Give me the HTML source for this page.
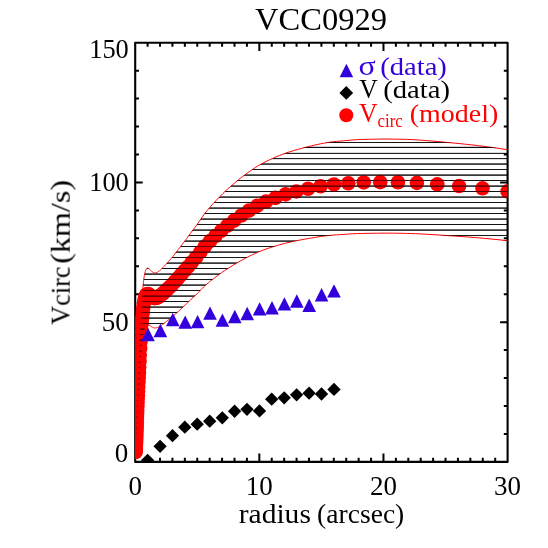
<!DOCTYPE html>
<html><head><meta charset="utf-8"><title>VCC0929</title>
<style>html,body{margin:0;padding:0;background:#fff;}svg{display:block;}text{font-family:"Liberation Serif",serif;}</style></head><body>
<svg width="548" height="548" viewBox="0 0 548 548">
<rect x="0" y="0" width="548" height="548" fill="#ffffff"/>
<defs>
<clipPath id="pc"><rect x="135.2" y="42.7" width="372.40" height="419.20"/></clipPath>
<clipPath id="bc"><polygon points="135.57,450.48 135.58,450.22 135.58,449.96 135.59,449.70 135.60,449.45 135.60,449.20 135.61,448.95 135.62,448.71 135.63,448.46 135.63,448.22 135.64,447.98 135.65,447.74 135.65,447.51 135.66,447.27 135.67,447.03 135.68,446.79 135.69,446.56 135.69,446.32 135.70,446.08 135.71,445.84 135.72,445.60 135.73,445.36 135.74,445.11 135.75,444.86 135.75,444.61 135.76,444.36 135.77,444.10 135.78,443.84 135.79,443.58 135.80,443.31 135.81,443.04 135.82,442.76 135.83,442.47 135.84,442.19 135.85,441.89 135.87,441.59 135.88,441.28 135.89,440.97 135.90,440.65 135.91,440.32 135.92,439.99 135.94,439.65 135.95,439.29 135.96,438.93 135.97,438.56 135.99,438.17 136.00,437.77 136.01,437.36 136.03,436.94 136.04,436.51 136.05,436.07 136.07,435.62 136.08,435.16 136.10,434.68 136.11,434.20 136.13,433.71 136.14,433.21 136.16,432.71 136.18,432.19 136.19,431.67 136.21,431.13 136.23,430.59 136.24,430.05 136.26,429.50 136.28,428.94 136.30,428.37 136.31,427.80 136.33,427.22 136.35,426.64 136.37,426.05 136.39,425.46 136.41,424.86 136.43,424.26 136.45,423.65 136.47,423.03 136.49,422.39 136.52,421.74 136.54,421.08 136.56,420.41 136.58,419.72 136.61,419.02 136.63,418.30 136.65,417.58 136.68,416.84 136.70,416.10 136.73,415.34 136.75,414.57 136.78,413.79 136.81,413.00 136.83,412.21 136.86,411.40 136.89,410.59 136.92,409.77 136.94,408.94 136.97,408.10 137.00,407.26 137.03,406.41 137.06,405.56 137.10,404.69 137.13,403.80 137.16,402.89 137.19,401.96 137.23,401.02 137.26,400.06 137.29,399.09 137.33,398.10 137.36,397.11 137.40,396.10 137.44,395.08 137.47,394.06 137.51,393.02 137.55,391.98 137.59,390.94 137.63,389.89 137.67,388.84 137.71,387.78 137.76,386.72 137.80,385.65 137.84,384.57 137.89,383.48 137.93,382.38 137.98,381.26 138.02,380.13 138.07,379.00 138.12,377.84 138.17,376.68 138.22,375.49 138.27,374.30 138.32,373.08 138.37,371.85 138.42,370.61 138.48,369.34 138.53,368.06 138.59,366.76 138.65,365.44 138.70,364.10 138.76,362.73 138.82,361.35 138.88,359.95 138.94,358.52 139.01,357.06 139.07,355.58 139.13,354.06 139.20,352.52 139.27,350.96 139.34,349.36 139.40,347.75 139.48,346.11 139.55,344.44 139.62,342.74 139.69,340.99 139.77,339.20 139.85,337.38 139.92,335.54 140.00,333.70 140.08,331.86 140.16,330.04 140.25,328.23 140.33,326.39 140.42,324.55 140.51,322.72 140.59,320.90 140.68,319.10 140.78,317.34 140.87,315.61 140.96,313.89 141.06,312.20 141.16,310.52 141.26,308.88 141.36,307.26 141.46,305.68 141.57,304.13 141.67,302.61 141.78,301.12 141.89,299.63 142.01,298.14 142.12,296.65 142.23,295.15 142.35,293.66 142.47,292.18 142.59,290.75 142.72,289.34 142.84,287.96 142.97,286.61 143.10,285.29 143.23,284.02 143.37,282.78 143.51,281.58 143.64,280.42 143.79,279.31 143.93,278.26 144.08,277.26 144.22,276.30 144.38,275.40 144.53,274.60 144.69,273.87 144.84,273.20 145.01,272.57 145.17,271.98 145.34,271.38 145.51,270.80 145.68,270.28 145.85,269.86 146.03,269.52 146.21,269.21 146.40,268.94 146.59,268.72 146.78,268.55 146.97,268.41 147.17,268.28 147.37,268.17 147.57,268.11 147.78,268.10 147.99,268.16 148.20,268.28 148.42,268.43 148.64,268.59 148.87,268.75 149.10,268.92 149.33,269.11 149.57,269.33 149.81,269.55 150.05,269.79 150.30,270.02 150.55,270.25 150.81,270.48 151.07,270.72 151.34,270.96 151.61,271.21 151.88,271.45 152.16,271.67 152.44,271.87 152.73,272.05 153.03,272.24 153.32,272.43 153.63,272.60 153.94,272.75 154.25,272.85 154.57,272.89 154.89,272.88 155.22,272.84 155.56,272.79 155.90,272.72 156.25,272.63 156.60,272.53 156.96,272.43 157.32,272.29 157.69,272.09 158.07,271.84 158.45,271.57 158.84,271.27 159.23,270.96 159.64,270.65 160.05,270.31 160.46,269.93 160.89,269.53 161.32,269.11 161.75,268.67 162.20,268.21 162.65,267.74 163.11,267.26 163.58,266.78 164.05,266.29 164.53,265.77 165.02,265.24 165.52,264.69 166.03,264.12 166.55,263.55 167.07,262.96 167.61,262.36 168.15,261.77 168.70,261.16 169.26,260.56 169.83,259.94 170.41,259.31 171.00,258.65 171.60,257.98 172.21,257.27 172.83,256.53 173.46,255.73 174.10,254.90 174.75,254.03 175.41,253.15 176.09,252.27 176.77,251.40 177.47,250.53 178.17,249.64 178.89,248.74 179.62,247.83 180.37,246.88 181.12,245.91 181.89,244.89 182.68,243.84 183.47,242.77 184.28,241.68 185.10,240.59 185.94,239.48 186.78,238.35 187.65,237.20 188.53,236.02 189.42,234.81 190.33,233.55 191.25,232.27 192.19,230.97 193.14,229.69 194.11,228.43 195.10,227.18 196.10,225.90 197.12,224.54 198.16,223.07 199.21,221.50 200.28,219.90 201.37,218.30 202.48,216.66 203.61,215.03 204.75,213.46 205.92,211.99 207.10,210.57 208.30,209.17 209.53,207.75 210.77,206.32 212.04,204.89 213.32,203.46 214.63,202.04 215.96,200.63 217.31,199.23 218.69,197.82 220.09,196.40 221.51,194.95 222.95,193.50 224.42,192.06 225.91,190.65 227.43,189.27 228.98,187.91 230.55,186.54 232.14,185.15 233.77,183.74 235.42,182.33 237.09,180.93 238.80,179.55 240.53,178.17 242.30,176.81 244.09,175.45 245.91,174.09 247.77,172.74 249.65,171.39 251.57,170.06 253.52,168.75 255.50,167.45 257.51,166.17 259.56,164.94 261.64,163.77 263.76,162.65 265.91,161.57 268.10,160.51 270.32,159.48 272.58,158.46 274.88,157.45 277.22,156.45 279.60,155.47 282.02,154.52 284.48,153.60 286.98,152.72 289.52,151.88 292.10,151.07 294.73,150.28 297.40,149.51 300.11,148.76 302.87,148.01 305.68,147.26 308.53,146.53 311.44,145.85 314.39,145.17 317.39,144.50 320.44,143.85 323.54,143.24 326.69,142.69 329.90,142.19 333.16,141.78 336.47,141.44 339.84,141.13 343.27,140.82 346.75,140.50 350.29,140.16 353.89,139.86 357.55,139.63 361.28,139.49 365.06,139.38 368.91,139.29 372.82,139.21 376.80,139.12 380.84,139.04 384.96,139.01 389.14,139.04 393.39,139.10 397.71,139.18 402.11,139.27 406.57,139.40 411.12,139.57 415.74,139.79 420.43,140.12 425.21,140.52 430.06,140.92 435.00,141.34 440.02,141.78 445.12,142.25 450.31,142.73 455.59,143.23 460.95,143.76 466.40,144.32 471.95,144.92 477.59,145.58 483.32,146.29 489.15,147.05 495.07,147.85 501.10,148.75 507.22,149.67 513.45,150.59 519.78,151.52 526.22,152.46 526.22,242.66 519.78,241.99 513.45,241.33 507.22,240.68 501.10,240.03 495.07,239.39 489.15,238.82 483.32,238.29 477.59,237.78 471.95,237.32 466.40,236.89 460.95,236.49 455.59,236.12 450.31,235.76 445.12,235.42 440.02,235.09 435.00,234.78 430.06,234.48 425.21,234.19 420.43,233.91 415.74,233.68 411.12,233.53 406.57,233.40 402.11,233.31 397.71,233.25 393.39,233.19 389.14,233.15 384.96,233.13 380.84,233.15 376.80,233.21 372.82,233.27 368.91,233.33 365.06,233.39 361.28,233.47 357.55,233.57 353.89,233.73 350.29,233.94 346.75,234.18 343.27,234.41 339.84,234.63 336.47,234.85 333.16,235.09 329.90,235.38 326.69,235.73 323.54,236.13 320.44,236.56 317.39,237.02 314.39,237.49 311.44,237.97 308.53,238.46 305.68,238.97 302.87,239.50 300.11,240.03 297.40,240.57 294.73,241.11 292.10,241.67 289.52,242.25 286.98,242.84 284.48,243.46 282.02,244.11 279.60,244.79 277.22,245.49 274.88,246.19 272.58,246.91 270.32,247.63 268.10,248.36 265.91,249.11 263.76,249.88 261.64,250.67 259.56,251.50 257.51,252.37 255.50,253.28 253.52,254.20 251.57,255.12 249.65,256.07 247.77,257.02 245.91,257.98 244.09,258.95 242.30,259.91 240.53,260.88 238.80,261.85 237.09,262.83 235.42,263.82 233.77,264.82 232.14,265.82 230.55,266.80 228.98,267.77 227.43,268.74 225.91,269.72 224.42,270.71 222.95,271.73 221.51,272.76 220.09,273.79 218.69,274.80 217.31,275.80 215.96,276.79 214.63,277.79 213.32,278.79 212.04,279.81 210.77,280.82 209.53,281.83 208.30,282.84 207.10,283.83 205.92,284.83 204.75,285.88 203.61,286.99 202.48,288.15 201.37,289.31 200.28,290.44 199.21,291.57 198.16,292.68 197.12,293.73 196.10,294.69 195.10,295.60 194.11,296.49 193.14,297.37 192.19,298.28 191.25,299.20 190.33,300.11 189.42,301.00 188.53,301.86 187.65,302.69 186.78,303.51 185.94,304.31 185.10,305.10 184.28,305.87 183.47,306.65 182.68,307.40 181.89,308.15 181.12,308.86 180.37,309.56 179.62,310.23 178.89,310.88 178.17,311.51 177.47,312.14 176.77,312.76 176.09,313.38 175.41,314.00 174.75,314.62 174.10,315.23 173.46,315.83 172.83,316.39 172.21,316.92 171.60,317.42 171.00,317.90 170.41,318.36 169.83,318.81 169.26,319.25 168.70,319.68 168.15,320.10 167.61,320.53 167.07,320.95 166.55,321.36 166.03,321.77 165.52,322.17 165.02,322.56 164.53,322.94 164.05,323.31 163.58,323.65 163.11,323.99 162.65,324.33 162.20,324.67 161.75,324.99 161.32,325.30 160.89,325.60 160.46,325.89 160.05,326.15 159.64,326.40 159.23,326.62 158.84,326.84 158.45,327.05 158.07,327.24 157.69,327.41 157.32,327.56 156.96,327.66 156.60,327.73 156.25,327.80 155.90,327.86 155.56,327.91 155.22,327.95 154.89,327.98 154.57,327.98 154.25,327.95 153.94,327.88 153.63,327.78 153.32,327.66 153.03,327.52 152.73,327.39 152.44,327.26 152.16,327.12 151.88,326.96 151.61,326.79 151.34,326.62 151.07,326.44 150.81,326.27 150.55,326.11 150.30,325.95 150.05,325.78 149.81,325.62 149.57,325.46 149.33,325.31 149.10,325.17 148.87,325.05 148.64,324.94 148.42,324.82 148.20,324.72 147.99,324.63 147.78,324.59 147.57,324.60 147.37,324.64 147.17,324.72 146.97,324.81 146.78,324.91 146.59,325.03 146.40,325.19 146.21,325.37 146.03,325.59 145.85,325.84 145.68,326.13 145.51,326.50 145.34,326.91 145.17,327.34 145.01,327.76 144.84,328.20 144.69,328.68 144.53,329.19 144.38,329.76 144.22,330.40 144.08,331.08 143.93,331.79 143.79,332.53 143.64,333.32 143.51,334.14 143.37,334.99 143.23,335.87 143.10,336.77 142.97,337.70 142.84,338.66 142.72,339.64 142.59,340.63 142.47,341.65 142.35,342.70 142.23,343.75 142.12,344.82 142.01,345.87 141.89,346.93 141.78,347.98 141.67,349.04 141.57,350.12 141.46,351.21 141.36,352.34 141.26,353.48 141.16,354.65 141.06,355.83 140.96,357.03 140.87,358.25 140.78,359.48 140.68,360.73 140.59,362.00 140.51,363.29 140.42,364.59 140.33,365.89 140.25,367.19 140.16,368.48 140.08,369.77 140.00,371.07 139.92,372.37 139.85,373.67 139.77,374.96 139.69,376.23 139.62,377.47 139.55,378.68 139.48,379.86 139.40,381.02 139.34,382.17 139.27,383.30 139.20,384.40 139.13,385.50 139.07,386.57 139.01,387.62 138.94,388.65 138.88,389.66 138.82,390.66 138.76,391.64 138.70,392.60 138.65,393.55 138.59,394.49 138.53,395.41 138.48,396.32 138.42,397.22 138.37,398.10 138.32,398.97 138.27,399.83 138.22,400.68 138.17,401.52 138.12,402.34 138.07,403.16 138.02,403.97 137.98,404.77 137.93,405.56 137.89,406.34 137.84,407.11 137.80,407.88 137.76,408.64 137.71,409.39 137.67,410.14 137.63,410.88 137.59,411.62 137.55,412.36 137.51,413.10 137.47,413.83 137.44,414.56 137.40,415.28 137.36,415.99 137.33,416.70 137.29,417.40 137.26,418.09 137.23,418.76 137.19,419.43 137.16,420.09 137.13,420.73 137.10,421.36 137.06,421.98 137.03,422.59 137.00,423.19 136.97,423.78 136.94,424.38 136.92,424.96 136.89,425.55 136.86,426.12 136.83,426.69 136.81,427.26 136.78,427.81 136.75,428.37 136.73,428.91 136.70,429.45 136.68,429.98 136.65,430.50 136.63,431.01 136.61,431.52 136.58,432.01 136.56,432.50 136.54,432.98 136.52,433.45 136.49,433.91 136.47,434.36 136.45,434.80 136.43,435.23 136.41,435.66 136.39,436.08 136.37,436.50 136.35,436.92 136.33,437.33 136.31,437.74 136.30,438.14 136.28,438.54 136.26,438.94 136.24,439.33 136.23,439.72 136.21,440.10 136.19,440.48 136.18,440.85 136.16,441.21 136.14,441.57 136.13,441.93 136.11,442.28 136.10,442.62 136.08,442.95 136.07,443.28 136.05,443.60 136.04,443.91 136.03,444.22 136.01,444.52 136.00,444.81 135.99,445.09 135.97,445.36 135.96,445.63 135.95,445.88 135.94,446.13 135.92,446.38 135.91,446.61 135.90,446.84 135.89,447.07 135.88,447.29 135.87,447.51 135.85,447.72 135.84,447.93 135.83,448.14 135.82,448.34 135.81,448.53 135.80,448.73 135.79,448.92 135.78,449.11 135.77,449.29 135.76,449.47 135.75,449.65 135.75,449.83 135.74,450.00 135.73,450.18 135.72,450.35 135.71,450.52 135.70,450.69 135.69,450.86 135.69,451.03 135.68,451.20 135.67,451.37 135.66,451.53 135.65,451.70 135.65,451.87 135.64,452.04 135.63,452.21 135.63,452.38 135.62,452.55 135.61,452.72 135.60,452.90 135.60,453.08 135.59,453.26 135.58,453.44 135.58,453.62 135.57,453.81"/></clipPath>
</defs>
<g stroke="#000" stroke-width="2.1" fill="none" stroke-linejoin="round">
<rect x="135.2" y="42.7" width="372.40" height="419.20"/>
</g>
<g stroke="#000" stroke-width="2.0" fill="none">
<path d="M147.61 461.9V457.80M147.61 42.7V46.80"/>
<path d="M160.03 461.9V457.80M160.03 42.7V46.80"/>
<path d="M172.44 461.9V457.80M172.44 42.7V46.80"/>
<path d="M184.85 461.9V457.80M184.85 42.7V46.80"/>
<path d="M197.27 461.9V457.80M197.27 42.7V46.80"/>
<path d="M209.68 461.9V457.80M209.68 42.7V46.80"/>
<path d="M222.09 461.9V457.80M222.09 42.7V46.80"/>
<path d="M234.51 461.9V457.80M234.51 42.7V46.80"/>
<path d="M246.92 461.9V457.80M246.92 42.7V46.80"/>
<path d="M259.33 461.9V453.50M259.33 42.7V51.10"/>
<path d="M271.75 461.9V457.80M271.75 42.7V46.80"/>
<path d="M284.16 461.9V457.80M284.16 42.7V46.80"/>
<path d="M296.57 461.9V457.80M296.57 42.7V46.80"/>
<path d="M308.99 461.9V457.80M308.99 42.7V46.80"/>
<path d="M321.40 461.9V457.80M321.40 42.7V46.80"/>
<path d="M333.81 461.9V457.80M333.81 42.7V46.80"/>
<path d="M346.23 461.9V457.80M346.23 42.7V46.80"/>
<path d="M358.64 461.9V457.80M358.64 42.7V46.80"/>
<path d="M371.05 461.9V457.80M371.05 42.7V46.80"/>
<path d="M383.47 461.9V453.50M383.47 42.7V51.10"/>
<path d="M395.88 461.9V457.80M395.88 42.7V46.80"/>
<path d="M408.29 461.9V457.80M408.29 42.7V46.80"/>
<path d="M420.71 461.9V457.80M420.71 42.7V46.80"/>
<path d="M433.12 461.9V457.80M433.12 42.7V46.80"/>
<path d="M445.53 461.9V457.80M445.53 42.7V46.80"/>
<path d="M457.95 461.9V457.80M457.95 42.7V46.80"/>
<path d="M470.36 461.9V457.80M470.36 42.7V46.80"/>
<path d="M482.77 461.9V457.80M482.77 42.7V46.80"/>
<path d="M495.19 461.9V457.80M495.19 42.7V46.80"/>
<path d="M135.2 433.95H139.00M507.6 433.95H503.80"/>
<path d="M135.2 406.01H139.00M507.6 406.01H503.80"/>
<path d="M135.2 378.06H139.00M507.6 378.06H503.80"/>
<path d="M135.2 350.11H139.00M507.6 350.11H503.80"/>
<path d="M135.2 322.17H142.70M507.6 322.17H500.10"/>
<path d="M135.2 294.22H139.00M507.6 294.22H503.80"/>
<path d="M135.2 266.27H139.00M507.6 266.27H503.80"/>
<path d="M135.2 238.33H139.00M507.6 238.33H503.80"/>
<path d="M135.2 210.38H139.00M507.6 210.38H503.80"/>
<path d="M135.2 182.43H142.70M507.6 182.43H500.10"/>
<path d="M135.2 154.49H139.00M507.6 154.49H503.80"/>
<path d="M135.2 126.54H139.00M507.6 126.54H503.80"/>
<path d="M135.2 98.59H139.00M507.6 98.59H503.80"/>
<path d="M135.2 70.65H139.00M507.6 70.65H503.80"/>
</g>
<g clip-path="url(#pc)">
<g clip-path="url(#bc)" stroke="#000" fill="none"><path stroke-width="0.8" opacity="1" d="M135.2 142.50H507.6M135.2 153.40H507.6M135.2 158.60H507.6M135.2 169.50H507.6M135.2 180.50H507.6M135.2 191.50H507.6M135.2 202.50H507.6M135.2 213.50H507.6M135.2 224.50H507.6M135.2 235.50H507.6M135.2 246.50H507.6M135.2 257.50H507.6M135.2 268.50H507.6M135.2 279.50H507.6M135.2 290.50H507.6M135.2 301.50H507.6M135.2 312.50H507.6M135.2 323.50H507.6M135.2 334.50H507.6M135.2 345.50H507.6M135.2 356.50H507.6M135.2 367.50H507.6M135.2 378.50H507.6M135.2 389.50H507.6M135.2 400.50H507.6M135.2 411.50H507.6M135.2 422.50H507.6M135.2 433.50H507.6M135.2 444.50H507.6M135.2 455.50H507.6"/><path stroke-width="0.8" opacity="1" d="M135.2 147.40H507.6M135.2 164.05H507.6M135.2 175.10H507.6M135.2 186.10H507.6M135.2 197.10H507.6M135.2 208.10H507.6M135.2 219.10H507.6M135.2 230.10H507.6M135.2 241.10H507.6M135.2 252.10H507.6M135.2 263.10H507.6M135.2 274.10H507.6M135.2 285.10H507.6M135.2 296.10H507.6M135.2 307.10H507.6M135.2 318.10H507.6M135.2 329.10H507.6M135.2 340.10H507.6M135.2 351.10H507.6M135.2 362.10H507.6M135.2 373.10H507.6M135.2 384.10H507.6M135.2 395.10H507.6M135.2 406.10H507.6M135.2 417.10H507.6M135.2 428.10H507.6M135.2 439.10H507.6M135.2 450.10H507.6M135.2 461.10H507.6"/></g>
<polygon points="135.57,450.48 135.58,450.22 135.58,449.96 135.59,449.70 135.60,449.45 135.60,449.20 135.61,448.95 135.62,448.71 135.63,448.46 135.63,448.22 135.64,447.98 135.65,447.74 135.65,447.51 135.66,447.27 135.67,447.03 135.68,446.79 135.69,446.56 135.69,446.32 135.70,446.08 135.71,445.84 135.72,445.60 135.73,445.36 135.74,445.11 135.75,444.86 135.75,444.61 135.76,444.36 135.77,444.10 135.78,443.84 135.79,443.58 135.80,443.31 135.81,443.04 135.82,442.76 135.83,442.47 135.84,442.19 135.85,441.89 135.87,441.59 135.88,441.28 135.89,440.97 135.90,440.65 135.91,440.32 135.92,439.99 135.94,439.65 135.95,439.29 135.96,438.93 135.97,438.56 135.99,438.17 136.00,437.77 136.01,437.36 136.03,436.94 136.04,436.51 136.05,436.07 136.07,435.62 136.08,435.16 136.10,434.68 136.11,434.20 136.13,433.71 136.14,433.21 136.16,432.71 136.18,432.19 136.19,431.67 136.21,431.13 136.23,430.59 136.24,430.05 136.26,429.50 136.28,428.94 136.30,428.37 136.31,427.80 136.33,427.22 136.35,426.64 136.37,426.05 136.39,425.46 136.41,424.86 136.43,424.26 136.45,423.65 136.47,423.03 136.49,422.39 136.52,421.74 136.54,421.08 136.56,420.41 136.58,419.72 136.61,419.02 136.63,418.30 136.65,417.58 136.68,416.84 136.70,416.10 136.73,415.34 136.75,414.57 136.78,413.79 136.81,413.00 136.83,412.21 136.86,411.40 136.89,410.59 136.92,409.77 136.94,408.94 136.97,408.10 137.00,407.26 137.03,406.41 137.06,405.56 137.10,404.69 137.13,403.80 137.16,402.89 137.19,401.96 137.23,401.02 137.26,400.06 137.29,399.09 137.33,398.10 137.36,397.11 137.40,396.10 137.44,395.08 137.47,394.06 137.51,393.02 137.55,391.98 137.59,390.94 137.63,389.89 137.67,388.84 137.71,387.78 137.76,386.72 137.80,385.65 137.84,384.57 137.89,383.48 137.93,382.38 137.98,381.26 138.02,380.13 138.07,379.00 138.12,377.84 138.17,376.68 138.22,375.49 138.27,374.30 138.32,373.08 138.37,371.85 138.42,370.61 138.48,369.34 138.53,368.06 138.59,366.76 138.65,365.44 138.70,364.10 138.76,362.73 138.82,361.35 138.88,359.95 138.94,358.52 139.01,357.06 139.07,355.58 139.13,354.06 139.20,352.52 139.27,350.96 139.34,349.36 139.40,347.75 139.48,346.11 139.55,344.44 139.62,342.74 139.69,340.99 139.77,339.20 139.85,337.38 139.92,335.54 140.00,333.70 140.08,331.86 140.16,330.04 140.25,328.23 140.33,326.39 140.42,324.55 140.51,322.72 140.59,320.90 140.68,319.10 140.78,317.34 140.87,315.61 140.96,313.89 141.06,312.20 141.16,310.52 141.26,308.88 141.36,307.26 141.46,305.68 141.57,304.13 141.67,302.61 141.78,301.12 141.89,299.63 142.01,298.14 142.12,296.65 142.23,295.15 142.35,293.66 142.47,292.18 142.59,290.75 142.72,289.34 142.84,287.96 142.97,286.61 143.10,285.29 143.23,284.02 143.37,282.78 143.51,281.58 143.64,280.42 143.79,279.31 143.93,278.26 144.08,277.26 144.22,276.30 144.38,275.40 144.53,274.60 144.69,273.87 144.84,273.20 145.01,272.57 145.17,271.98 145.34,271.38 145.51,270.80 145.68,270.28 145.85,269.86 146.03,269.52 146.21,269.21 146.40,268.94 146.59,268.72 146.78,268.55 146.97,268.41 147.17,268.28 147.37,268.17 147.57,268.11 147.78,268.10 147.99,268.16 148.20,268.28 148.42,268.43 148.64,268.59 148.87,268.75 149.10,268.92 149.33,269.11 149.57,269.33 149.81,269.55 150.05,269.79 150.30,270.02 150.55,270.25 150.81,270.48 151.07,270.72 151.34,270.96 151.61,271.21 151.88,271.45 152.16,271.67 152.44,271.87 152.73,272.05 153.03,272.24 153.32,272.43 153.63,272.60 153.94,272.75 154.25,272.85 154.57,272.89 154.89,272.88 155.22,272.84 155.56,272.79 155.90,272.72 156.25,272.63 156.60,272.53 156.96,272.43 157.32,272.29 157.69,272.09 158.07,271.84 158.45,271.57 158.84,271.27 159.23,270.96 159.64,270.65 160.05,270.31 160.46,269.93 160.89,269.53 161.32,269.11 161.75,268.67 162.20,268.21 162.65,267.74 163.11,267.26 163.58,266.78 164.05,266.29 164.53,265.77 165.02,265.24 165.52,264.69 166.03,264.12 166.55,263.55 167.07,262.96 167.61,262.36 168.15,261.77 168.70,261.16 169.26,260.56 169.83,259.94 170.41,259.31 171.00,258.65 171.60,257.98 172.21,257.27 172.83,256.53 173.46,255.73 174.10,254.90 174.75,254.03 175.41,253.15 176.09,252.27 176.77,251.40 177.47,250.53 178.17,249.64 178.89,248.74 179.62,247.83 180.37,246.88 181.12,245.91 181.89,244.89 182.68,243.84 183.47,242.77 184.28,241.68 185.10,240.59 185.94,239.48 186.78,238.35 187.65,237.20 188.53,236.02 189.42,234.81 190.33,233.55 191.25,232.27 192.19,230.97 193.14,229.69 194.11,228.43 195.10,227.18 196.10,225.90 197.12,224.54 198.16,223.07 199.21,221.50 200.28,219.90 201.37,218.30 202.48,216.66 203.61,215.03 204.75,213.46 205.92,211.99 207.10,210.57 208.30,209.17 209.53,207.75 210.77,206.32 212.04,204.89 213.32,203.46 214.63,202.04 215.96,200.63 217.31,199.23 218.69,197.82 220.09,196.40 221.51,194.95 222.95,193.50 224.42,192.06 225.91,190.65 227.43,189.27 228.98,187.91 230.55,186.54 232.14,185.15 233.77,183.74 235.42,182.33 237.09,180.93 238.80,179.55 240.53,178.17 242.30,176.81 244.09,175.45 245.91,174.09 247.77,172.74 249.65,171.39 251.57,170.06 253.52,168.75 255.50,167.45 257.51,166.17 259.56,164.94 261.64,163.77 263.76,162.65 265.91,161.57 268.10,160.51 270.32,159.48 272.58,158.46 274.88,157.45 277.22,156.45 279.60,155.47 282.02,154.52 284.48,153.60 286.98,152.72 289.52,151.88 292.10,151.07 294.73,150.28 297.40,149.51 300.11,148.76 302.87,148.01 305.68,147.26 308.53,146.53 311.44,145.85 314.39,145.17 317.39,144.50 320.44,143.85 323.54,143.24 326.69,142.69 329.90,142.19 333.16,141.78 336.47,141.44 339.84,141.13 343.27,140.82 346.75,140.50 350.29,140.16 353.89,139.86 357.55,139.63 361.28,139.49 365.06,139.38 368.91,139.29 372.82,139.21 376.80,139.12 380.84,139.04 384.96,139.01 389.14,139.04 393.39,139.10 397.71,139.18 402.11,139.27 406.57,139.40 411.12,139.57 415.74,139.79 420.43,140.12 425.21,140.52 430.06,140.92 435.00,141.34 440.02,141.78 445.12,142.25 450.31,142.73 455.59,143.23 460.95,143.76 466.40,144.32 471.95,144.92 477.59,145.58 483.32,146.29 489.15,147.05 495.07,147.85 501.10,148.75 507.22,149.67 513.45,150.59 519.78,151.52 526.22,152.46 526.22,242.66 519.78,241.99 513.45,241.33 507.22,240.68 501.10,240.03 495.07,239.39 489.15,238.82 483.32,238.29 477.59,237.78 471.95,237.32 466.40,236.89 460.95,236.49 455.59,236.12 450.31,235.76 445.12,235.42 440.02,235.09 435.00,234.78 430.06,234.48 425.21,234.19 420.43,233.91 415.74,233.68 411.12,233.53 406.57,233.40 402.11,233.31 397.71,233.25 393.39,233.19 389.14,233.15 384.96,233.13 380.84,233.15 376.80,233.21 372.82,233.27 368.91,233.33 365.06,233.39 361.28,233.47 357.55,233.57 353.89,233.73 350.29,233.94 346.75,234.18 343.27,234.41 339.84,234.63 336.47,234.85 333.16,235.09 329.90,235.38 326.69,235.73 323.54,236.13 320.44,236.56 317.39,237.02 314.39,237.49 311.44,237.97 308.53,238.46 305.68,238.97 302.87,239.50 300.11,240.03 297.40,240.57 294.73,241.11 292.10,241.67 289.52,242.25 286.98,242.84 284.48,243.46 282.02,244.11 279.60,244.79 277.22,245.49 274.88,246.19 272.58,246.91 270.32,247.63 268.10,248.36 265.91,249.11 263.76,249.88 261.64,250.67 259.56,251.50 257.51,252.37 255.50,253.28 253.52,254.20 251.57,255.12 249.65,256.07 247.77,257.02 245.91,257.98 244.09,258.95 242.30,259.91 240.53,260.88 238.80,261.85 237.09,262.83 235.42,263.82 233.77,264.82 232.14,265.82 230.55,266.80 228.98,267.77 227.43,268.74 225.91,269.72 224.42,270.71 222.95,271.73 221.51,272.76 220.09,273.79 218.69,274.80 217.31,275.80 215.96,276.79 214.63,277.79 213.32,278.79 212.04,279.81 210.77,280.82 209.53,281.83 208.30,282.84 207.10,283.83 205.92,284.83 204.75,285.88 203.61,286.99 202.48,288.15 201.37,289.31 200.28,290.44 199.21,291.57 198.16,292.68 197.12,293.73 196.10,294.69 195.10,295.60 194.11,296.49 193.14,297.37 192.19,298.28 191.25,299.20 190.33,300.11 189.42,301.00 188.53,301.86 187.65,302.69 186.78,303.51 185.94,304.31 185.10,305.10 184.28,305.87 183.47,306.65 182.68,307.40 181.89,308.15 181.12,308.86 180.37,309.56 179.62,310.23 178.89,310.88 178.17,311.51 177.47,312.14 176.77,312.76 176.09,313.38 175.41,314.00 174.75,314.62 174.10,315.23 173.46,315.83 172.83,316.39 172.21,316.92 171.60,317.42 171.00,317.90 170.41,318.36 169.83,318.81 169.26,319.25 168.70,319.68 168.15,320.10 167.61,320.53 167.07,320.95 166.55,321.36 166.03,321.77 165.52,322.17 165.02,322.56 164.53,322.94 164.05,323.31 163.58,323.65 163.11,323.99 162.65,324.33 162.20,324.67 161.75,324.99 161.32,325.30 160.89,325.60 160.46,325.89 160.05,326.15 159.64,326.40 159.23,326.62 158.84,326.84 158.45,327.05 158.07,327.24 157.69,327.41 157.32,327.56 156.96,327.66 156.60,327.73 156.25,327.80 155.90,327.86 155.56,327.91 155.22,327.95 154.89,327.98 154.57,327.98 154.25,327.95 153.94,327.88 153.63,327.78 153.32,327.66 153.03,327.52 152.73,327.39 152.44,327.26 152.16,327.12 151.88,326.96 151.61,326.79 151.34,326.62 151.07,326.44 150.81,326.27 150.55,326.11 150.30,325.95 150.05,325.78 149.81,325.62 149.57,325.46 149.33,325.31 149.10,325.17 148.87,325.05 148.64,324.94 148.42,324.82 148.20,324.72 147.99,324.63 147.78,324.59 147.57,324.60 147.37,324.64 147.17,324.72 146.97,324.81 146.78,324.91 146.59,325.03 146.40,325.19 146.21,325.37 146.03,325.59 145.85,325.84 145.68,326.13 145.51,326.50 145.34,326.91 145.17,327.34 145.01,327.76 144.84,328.20 144.69,328.68 144.53,329.19 144.38,329.76 144.22,330.40 144.08,331.08 143.93,331.79 143.79,332.53 143.64,333.32 143.51,334.14 143.37,334.99 143.23,335.87 143.10,336.77 142.97,337.70 142.84,338.66 142.72,339.64 142.59,340.63 142.47,341.65 142.35,342.70 142.23,343.75 142.12,344.82 142.01,345.87 141.89,346.93 141.78,347.98 141.67,349.04 141.57,350.12 141.46,351.21 141.36,352.34 141.26,353.48 141.16,354.65 141.06,355.83 140.96,357.03 140.87,358.25 140.78,359.48 140.68,360.73 140.59,362.00 140.51,363.29 140.42,364.59 140.33,365.89 140.25,367.19 140.16,368.48 140.08,369.77 140.00,371.07 139.92,372.37 139.85,373.67 139.77,374.96 139.69,376.23 139.62,377.47 139.55,378.68 139.48,379.86 139.40,381.02 139.34,382.17 139.27,383.30 139.20,384.40 139.13,385.50 139.07,386.57 139.01,387.62 138.94,388.65 138.88,389.66 138.82,390.66 138.76,391.64 138.70,392.60 138.65,393.55 138.59,394.49 138.53,395.41 138.48,396.32 138.42,397.22 138.37,398.10 138.32,398.97 138.27,399.83 138.22,400.68 138.17,401.52 138.12,402.34 138.07,403.16 138.02,403.97 137.98,404.77 137.93,405.56 137.89,406.34 137.84,407.11 137.80,407.88 137.76,408.64 137.71,409.39 137.67,410.14 137.63,410.88 137.59,411.62 137.55,412.36 137.51,413.10 137.47,413.83 137.44,414.56 137.40,415.28 137.36,415.99 137.33,416.70 137.29,417.40 137.26,418.09 137.23,418.76 137.19,419.43 137.16,420.09 137.13,420.73 137.10,421.36 137.06,421.98 137.03,422.59 137.00,423.19 136.97,423.78 136.94,424.38 136.92,424.96 136.89,425.55 136.86,426.12 136.83,426.69 136.81,427.26 136.78,427.81 136.75,428.37 136.73,428.91 136.70,429.45 136.68,429.98 136.65,430.50 136.63,431.01 136.61,431.52 136.58,432.01 136.56,432.50 136.54,432.98 136.52,433.45 136.49,433.91 136.47,434.36 136.45,434.80 136.43,435.23 136.41,435.66 136.39,436.08 136.37,436.50 136.35,436.92 136.33,437.33 136.31,437.74 136.30,438.14 136.28,438.54 136.26,438.94 136.24,439.33 136.23,439.72 136.21,440.10 136.19,440.48 136.18,440.85 136.16,441.21 136.14,441.57 136.13,441.93 136.11,442.28 136.10,442.62 136.08,442.95 136.07,443.28 136.05,443.60 136.04,443.91 136.03,444.22 136.01,444.52 136.00,444.81 135.99,445.09 135.97,445.36 135.96,445.63 135.95,445.88 135.94,446.13 135.92,446.38 135.91,446.61 135.90,446.84 135.89,447.07 135.88,447.29 135.87,447.51 135.85,447.72 135.84,447.93 135.83,448.14 135.82,448.34 135.81,448.53 135.80,448.73 135.79,448.92 135.78,449.11 135.77,449.29 135.76,449.47 135.75,449.65 135.75,449.83 135.74,450.00 135.73,450.18 135.72,450.35 135.71,450.52 135.70,450.69 135.69,450.86 135.69,451.03 135.68,451.20 135.67,451.37 135.66,451.53 135.65,451.70 135.65,451.87 135.64,452.04 135.63,452.21 135.63,452.38 135.62,452.55 135.61,452.72 135.60,452.90 135.60,453.08 135.59,453.26 135.58,453.44 135.58,453.62 135.57,453.81" fill="none" stroke="#ff0000" stroke-width="1"/>
<g fill="#ff0000">
<circle cx="135.57" cy="452.00" r="7.3"/>
<circle cx="135.60" cy="451.07" r="7.3"/>
<circle cx="135.63" cy="450.17" r="7.3"/>
<circle cx="135.66" cy="449.30" r="7.3"/>
<circle cx="135.69" cy="448.44" r="7.3"/>
<circle cx="135.73" cy="447.56" r="7.3"/>
<circle cx="135.77" cy="446.65" r="7.3"/>
<circle cx="135.81" cy="445.69" r="7.3"/>
<circle cx="135.85" cy="444.66" r="7.3"/>
<circle cx="135.90" cy="443.54" r="7.3"/>
<circle cx="135.95" cy="442.30" r="7.3"/>
<circle cx="136.00" cy="440.91" r="7.3"/>
<circle cx="136.06" cy="439.35" r="7.3"/>
<circle cx="136.12" cy="437.63" r="7.3"/>
<circle cx="136.19" cy="435.77" r="7.3"/>
<circle cx="136.26" cy="433.80" r="7.3"/>
<circle cx="136.34" cy="431.73" r="7.3"/>
<circle cx="136.42" cy="429.57" r="7.3"/>
<circle cx="136.51" cy="427.30" r="7.3"/>
<circle cx="136.60" cy="424.83" r="7.3"/>
<circle cx="136.70" cy="422.17" r="7.3"/>
<circle cx="136.81" cy="419.35" r="7.3"/>
<circle cx="136.93" cy="416.40" r="7.3"/>
<circle cx="137.05" cy="413.33" r="7.3"/>
<circle cx="137.19" cy="410.07" r="7.3"/>
<circle cx="137.33" cy="406.56" r="7.3"/>
<circle cx="137.49" cy="402.87" r="7.3"/>
<circle cx="137.65" cy="399.07" r="7.3"/>
<circle cx="137.83" cy="395.20" r="7.3"/>
<circle cx="138.02" cy="391.17" r="7.3"/>
<circle cx="138.22" cy="386.94" r="7.3"/>
<circle cx="138.44" cy="382.48" r="7.3"/>
<circle cx="138.67" cy="377.75" r="7.3"/>
<circle cx="138.92" cy="372.70" r="7.3"/>
<circle cx="139.19" cy="367.27" r="7.3"/>
<circle cx="139.48" cy="361.43" r="7.3"/>
<circle cx="139.79" cy="355.11" r="7.3"/>
<circle cx="140.12" cy="348.43" r="7.3"/>
<circle cx="140.48" cy="341.77" r="7.3"/>
<circle cx="140.86" cy="335.27" r="7.3"/>
<circle cx="141.27" cy="329.15" r="7.3"/>
<circle cx="141.71" cy="323.47" r="7.3"/>
<circle cx="142.18" cy="318.04" r="7.3"/>
<circle cx="142.68" cy="312.72" r="7.3"/>
<circle cx="143.22" cy="307.85" r="7.3"/>
<circle cx="143.80" cy="303.57" r="7.3"/>
<circle cx="144.42" cy="300.06" r="7.3"/>
<circle cx="145.09" cy="297.57" r="7.3"/>
<circle cx="145.81" cy="295.57" r="7.3"/>
<circle cx="146.57" cy="294.51" r="7.3"/>
<circle cx="147.39" cy="294.02" r="7.3"/>
<circle cx="148.28" cy="294.16" r="7.3"/>
<circle cx="149.22" cy="294.76" r="7.3"/>
<circle cx="150.23" cy="295.57" r="7.3"/>
<circle cx="151.32" cy="296.43" r="7.3"/>
<circle cx="152.49" cy="297.25" r="7.3"/>
<circle cx="153.73" cy="297.91" r="7.3"/>
<circle cx="155.07" cy="298.09" r="7.3"/>
<circle cx="156.51" cy="297.82" r="7.3"/>
<circle cx="158.05" cy="297.22" r="7.3"/>
<circle cx="159.70" cy="296.13" r="7.3"/>
<circle cx="161.47" cy="294.70" r="7.3"/>
<circle cx="163.37" cy="293.00" r="7.3"/>
<circle cx="165.41" cy="291.12" r="7.3"/>
<circle cx="167.59" cy="289.01" r="7.3"/>
<circle cx="169.93" cy="286.80" r="7.3"/>
<circle cx="172.44" cy="284.34" r="7.3"/>
<circle cx="175.13" cy="281.33" r="7.3"/>
<circle cx="178.02" cy="278.14" r="7.3"/>
<circle cx="181.11" cy="274.75" r="7.3"/>
<circle cx="184.43" cy="270.90" r="7.3"/>
<circle cx="187.99" cy="266.79" r="7.3"/>
<circle cx="191.80" cy="262.25" r="7.3"/>
<circle cx="195.89" cy="257.63" r="7.3"/>
<circle cx="200.28" cy="252.20" r="7.3"/>
<circle cx="204.98" cy="246.36" r="7.3"/>
<circle cx="210.02" cy="241.17" r="7.3"/>
<circle cx="215.43" cy="235.98" r="7.3"/>
<circle cx="221.23" cy="230.82" r="7.3"/>
<circle cx="227.45" cy="225.65" r="7.3"/>
<circle cx="234.11" cy="220.60" r="7.3"/>
<circle cx="241.26" cy="215.55" r="7.3"/>
<circle cx="248.93" cy="210.60" r="7.3"/>
<circle cx="257.14" cy="205.83" r="7.3"/>
<circle cx="265.96" cy="201.63" r="7.3"/>
<circle cx="275.41" cy="197.88" r="7.3"/>
<circle cx="285.54" cy="194.41" r="7.3"/>
<circle cx="296.40" cy="191.45" r="7.3"/>
<circle cx="308.05" cy="188.72" r="7.3"/>
<circle cx="320.54" cy="186.28" r="7.3"/>
<circle cx="333.94" cy="184.43" r="7.3"/>
<circle cx="348.30" cy="183.26" r="7.3"/>
<circle cx="363.70" cy="182.45" r="7.3"/>
<circle cx="380.21" cy="182.14" r="7.3"/>
<circle cx="397.92" cy="182.25" r="7.3"/>
<circle cx="416.91" cy="182.84" r="7.3"/>
<circle cx="437.27" cy="184.29" r="7.3"/>
<circle cx="459.09" cy="186.05" r="7.3"/>
<circle cx="482.50" cy="188.32" r="7.3"/>
<circle cx="507.60" cy="191.39" r="7.3"/>
</g>
<g clip-path="url(#bc)" stroke="#000" fill="none"><path stroke-width="0.8" opacity="0.75" d="M135.2 142.50H507.6M135.2 153.40H507.6M135.2 158.60H507.6M135.2 169.50H507.6M135.2 180.50H507.6M135.2 191.50H507.6M135.2 202.50H507.6M135.2 213.50H507.6M135.2 224.50H507.6M135.2 235.50H507.6M135.2 246.50H507.6M135.2 257.50H507.6M135.2 268.50H507.6M135.2 279.50H507.6M135.2 290.50H507.6M135.2 301.50H507.6M135.2 312.50H507.6M135.2 323.50H507.6M135.2 334.50H507.6M135.2 345.50H507.6M135.2 356.50H507.6M135.2 367.50H507.6M135.2 378.50H507.6M135.2 389.50H507.6M135.2 400.50H507.6M135.2 411.50H507.6M135.2 422.50H507.6M135.2 433.50H507.6M135.2 444.50H507.6M135.2 455.50H507.6"/><path stroke-width="0.95" opacity="1.0" d="M135.2 147.40H507.6M135.2 164.05H507.6M135.2 175.10H507.6M135.2 186.10H507.6M135.2 197.10H507.6M135.2 208.10H507.6M135.2 219.10H507.6M135.2 230.10H507.6M135.2 241.10H507.6M135.2 252.10H507.6M135.2 263.10H507.6M135.2 274.10H507.6M135.2 285.10H507.6M135.2 296.10H507.6M135.2 307.10H507.6M135.2 318.10H507.6M135.2 329.10H507.6M135.2 340.10H507.6M135.2 351.10H507.6M135.2 362.10H507.6M135.2 373.10H507.6M135.2 384.10H507.6M135.2 395.10H507.6M135.2 406.10H507.6M135.2 417.10H507.6M135.2 428.10H507.6M135.2 439.10H507.6M135.2 450.10H507.6M135.2 461.10H507.6"/></g>
<g fill="#3300dd">
<path d="M148.00 327.75L154.80 341.15H141.20Z"/>
<path d="M160.40 323.75L167.20 337.15H153.60Z"/>
<path d="M172.80 312.80L179.60 326.20H166.00Z"/>
<path d="M185.20 315.40L192.00 328.80H178.40Z"/>
<path d="M197.60 314.90L204.40 328.30H190.80Z"/>
<path d="M210.00 306.45L216.80 319.85H203.20Z"/>
<path d="M222.40 313.40L229.20 326.80H215.60Z"/>
<path d="M234.80 309.80L241.60 323.20H228.00Z"/>
<path d="M247.20 306.80L254.00 320.20H240.40Z"/>
<path d="M259.60 302.20L266.40 315.60H252.80Z"/>
<path d="M272.00 301.10L278.80 314.50H265.20Z"/>
<path d="M284.40 297.20L291.20 310.60H277.60Z"/>
<path d="M296.80 294.25L303.60 307.65H290.00Z"/>
<path d="M309.20 298.60L316.00 312.00H302.40Z"/>
<path d="M321.60 288.05L328.40 301.45H314.80Z"/>
<path d="M334.00 284.15L340.80 297.55H327.20Z"/>
</g>
<g fill="#000">
<path d="M147.60 453.65L154.25 460.30L147.60 466.95L140.95 460.30Z"/>
<path d="M160.10 439.65L166.75 446.30L160.10 452.95L153.45 446.30Z"/>
<path d="M172.50 429.05L179.15 435.70L172.50 442.35L165.85 435.70Z"/>
<path d="M184.80 420.55L191.45 427.20L184.80 433.85L178.15 427.20Z"/>
<path d="M197.20 417.55L203.85 424.20L197.20 430.85L190.55 424.20Z"/>
<path d="M209.70 414.55L216.35 421.20L209.70 427.85L203.05 421.20Z"/>
<path d="M222.30 411.15L228.95 417.80L222.30 424.45L215.65 417.80Z"/>
<path d="M234.60 404.60L241.25 411.25L234.60 417.90L227.95 411.25Z"/>
<path d="M247.00 402.65L253.65 409.30L247.00 415.95L240.35 409.30Z"/>
<path d="M259.50 404.25L266.15 410.90L259.50 417.55L252.85 410.90Z"/>
<path d="M271.70 392.55L278.35 399.20L271.70 405.85L265.05 399.20Z"/>
<path d="M284.20 391.15L290.85 397.80L284.20 404.45L277.55 397.80Z"/>
<path d="M296.60 388.15L303.25 394.80L296.60 401.45L289.95 394.80Z"/>
<path d="M309.10 386.55L315.75 393.20L309.10 399.85L302.45 393.20Z"/>
<path d="M321.50 387.35L328.15 394.00L321.50 400.65L314.85 394.00Z"/>
<path d="M334.00 382.75L340.65 389.40L334.00 396.05L327.35 389.40Z"/>
</g>
</g>
<g id="txt" opacity="0.999">
<text x="321.1" y="30.1" font-size="32" text-anchor="middle" fill="#000" textLength="132" lengthAdjust="spacingAndGlyphs">VCC0929</text>
<text x="128.8" y="57.7" font-size="27" text-anchor="end" fill="#000" textLength="39.6" lengthAdjust="spacingAndGlyphs">150</text>
<text x="128.8" y="191.3" font-size="27" text-anchor="end" fill="#000" textLength="39.6" lengthAdjust="spacingAndGlyphs">100</text>
<text x="128.8" y="331.2" font-size="27" text-anchor="end" fill="#000">50</text>
<text x="128.2" y="462.4" font-size="27" text-anchor="end" fill="#000">0</text>
<text x="135.2" y="494.7" font-size="27" text-anchor="middle" fill="#000">0</text>
<text x="259.3" y="494.7" font-size="27" text-anchor="middle" fill="#000">10</text>
<text x="383.5" y="494.7" font-size="27" text-anchor="middle" fill="#000">20</text>
<text x="507.6" y="494.7" font-size="27" text-anchor="middle" fill="#000">30</text>
<text x="238.7" y="522.6" font-size="27" text-anchor="start" fill="#000" textLength="72.2" lengthAdjust="spacingAndGlyphs">radius</text>
<text x="317.1" y="522.6" font-size="27" text-anchor="start" fill="#000" textLength="87.2" lengthAdjust="spacingAndGlyphs">(arcsec)</text>
<g transform="translate(69.7 252.6) rotate(-90)"><text x="-72.3" y="0" font-size="27" text-anchor="start" fill="#000" textLength="58.5" lengthAdjust="spacingAndGlyphs">Vcirc</text><text x="-11.3" y="0" font-size="27" text-anchor="start" fill="#000" textLength="84.0" lengthAdjust="spacingAndGlyphs">(km/s)</text></g>
<path d="M346.4 63.8L353.2 77.3H339.6Z" fill="#3300dd"/>
<text x="358.4" y="74.6" font-size="26.5" text-anchor="start" fill="#3300dd" textLength="17.2" lengthAdjust="spacingAndGlyphs">&#963;</text>
<text x="380.2" y="74.6" font-size="25.5" text-anchor="start" fill="#3300dd" textLength="66.7" lengthAdjust="spacingAndGlyphs">(data)</text>
<path d="M346.3 86.05L353.15 92.9L346.3 99.75L339.45 92.9Z" fill="#000"/>
<text x="359.2" y="98.1" font-size="26.3" text-anchor="start" fill="#000" textLength="18.5" lengthAdjust="spacingAndGlyphs">V</text>
<text x="383.3" y="98.0" font-size="25.5" text-anchor="start" fill="#000" textLength="66.7" lengthAdjust="spacingAndGlyphs">(data)</text>
<circle cx="346.3" cy="115.2" r="7.0" fill="#ff0000"/>
<text x="358.9" y="121.5" font-size="27" fill="#ff0000" textLength="18.6" lengthAdjust="spacingAndGlyphs">V</text>
<text x="377.5" y="127.1" font-size="18" fill="#ff0000" textLength="25.3" lengthAdjust="spacingAndGlyphs">circ</text>
<text x="409.8" y="121.6" font-size="25.5" text-anchor="start" fill="#ff0000" textLength="88.5" lengthAdjust="spacingAndGlyphs">(model)</text>
</g>
</svg></body></html>
